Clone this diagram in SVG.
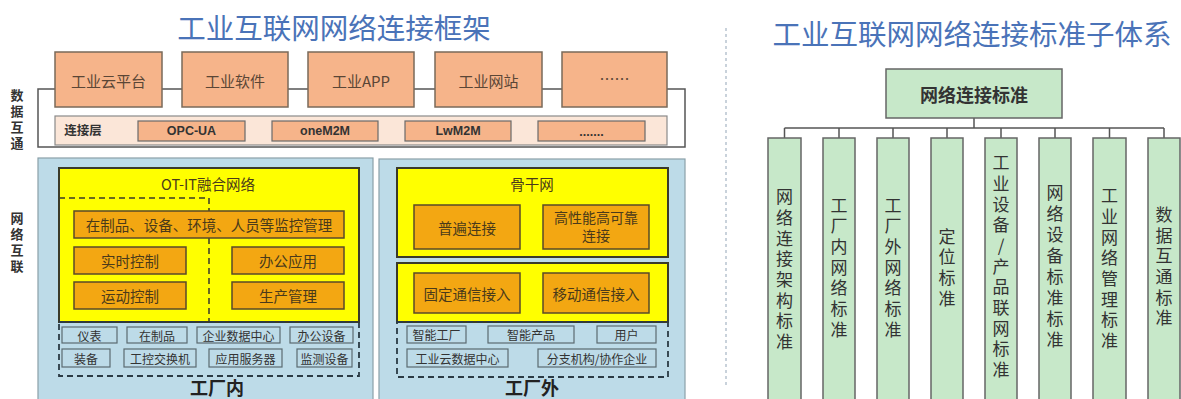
<svg xmlns="http://www.w3.org/2000/svg" width="1181" height="399" viewBox="0 0 1181 399">
<style>
text{font-family:"Noto Sans CJK SC","Liberation Sans",sans-serif;text-anchor:middle;dominant-baseline:central}
.title{font-size:28.5px;fill:#4a73b8}
.side{font-size:13px;font-weight:bold;fill:#333;writing-mode:vertical-rl;text-orientation:upright;letter-spacing:3px}
.app{fill:#f6b48a;stroke:#7a6a5a;stroke-width:1.5}
.appt{font-size:15px;fill:#5a4636}
.proto{fill:#f6b48a;stroke:#6a6a6a;stroke-width:1.2}
.protot{font-size:12.5px;font-weight:bold;fill:#333;font-family:"Liberation Sans","Noto Sans CJK SC",sans-serif}
.panel{fill:#bddbe8;stroke:#8aa0a8;stroke-width:1.2}
.yel{fill:#ffff00;stroke:#3a3a2a;stroke-width:2}
.org{fill:#f3a712;stroke:#5a4a2a;stroke-width:1.5}
.orgt{font-size:14.5px;fill:#4a3a1a}
.two{font-size:14px;fill:#4a3a1a;font-family:"Liberation Sans","Noto Sans CJK SC",sans-serif}
.sm{fill:#bddbe8;stroke:#5a6a70;stroke-width:1.2}
.smt{font-size:12px;fill:#333}
.dash{fill:none;stroke:#2a3a44;stroke-width:1.8;stroke-dasharray:6 4}
.big{font-size:18px;fill:#222;font-weight:bold}
.grn{fill:#c7e8c9;stroke:#666;stroke-width:1.5}
.colt{font-size:17px;fill:#333;writing-mode:vertical-rl;text-orientation:upright;letter-spacing:3.7px}
.tree{fill:none;stroke:#555;stroke-width:1.5}
</style>

<g id="titles">
<text class="title" x="334" y="26">工业互联网网络连接框架</text>
<text class="title" x="972" y="32">工业互联网网络连接标准子体系</text>
</g>

<g id="side-labels">
<text class="side" x="17" y="121">数据互通</text>
<text class="side" x="17" y="244">网络互联</text>
</g>

<g id="separator">
<line x1="726" y1="28" x2="726" y2="386" stroke="#b8c4d0" stroke-width="1.5" stroke-dasharray="3 3"/>
</g>

<g id="connectors">
<rect class="tree" x="38" y="89" width="647" height="58" stroke="#666"/>
<path class="tree" d="M974 118V128M784.5 128H1164M784.5 128V138M839 128V138M893 128V138M947 128V138M1001 128V138M1055 128V138M1109.5 128V138M1164 128V138"/>
</g>

<g id="app-layer">
<g id="n-cloud"><rect class="app" x="55" y="52" width="107" height="55"/><text class="appt" x="108.5" y="80">工业云平台</text></g>
<g id="n-soft"><rect class="app" x="182" y="52" width="106" height="55"/><text class="appt" x="235" y="80">工业软件</text></g>
<g id="n-app"><rect class="app" x="308" y="52" width="106" height="55"/><text class="appt" x="361" y="80">工业APP</text></g>
<g id="n-web"><rect class="app" x="435" y="52" width="107" height="55"/><text class="appt" x="488.5" y="80">工业网站</text></g>
<g id="n-more1"><rect class="app" x="562" y="52" width="105" height="55"/><text class="appt" x="614.5" y="78">……</text></g>
</g>

<g id="conn-layer">
<rect x="55" y="116" width="612" height="29" fill="#fbe6d8" stroke="#8a8a8a" stroke-width="1.2"/>
<text class="protot" x="83" y="131">连接层</text>
<g id="n-opc"><rect class="proto" x="138" y="121" width="107" height="20"/><text class="protot" x="191.5" y="131">OPC-UA</text></g>
<g id="n-onem2m"><rect class="proto" x="272" y="121" width="106" height="20"/><text class="protot" x="325" y="131">oneM2M</text></g>
<g id="n-lwm2m"><rect class="proto" x="405" y="121" width="106" height="20"/><text class="protot" x="458" y="131">LwM2M</text></g>
<g id="n-more2"><rect class="proto" x="538" y="121" width="107" height="20"/><text class="protot" x="591.5" y="132">.......</text></g>
</g>

<g id="factory-in">
<rect class="panel" x="38" y="158" width="335" height="250"/>
<rect class="yel" x="59" y="168" width="300" height="154"/>
<text class="orgt" x="208" y="183" fill="#555">OT-IT融合网络</text>
<path d="M59 198H209V322" fill="none" stroke="#3a3a2a" stroke-width="1.5" stroke-dasharray="6 4"/>
<g id="n-monitor"><rect class="org" x="74" y="211" width="270" height="27"/><text class="orgt" x="209" y="224.5">在制品、设备、环境、人员等监控管理</text></g>
<g id="n-rt"><rect class="org" x="74" y="247" width="112" height="27"/><text class="orgt" x="130" y="260.5">实时控制</text></g>
<g id="n-office"><rect class="org" x="232" y="247" width="112" height="27"/><text class="orgt" x="288" y="260.5">办公应用</text></g>
<g id="n-motion"><rect class="org" x="74" y="282" width="112" height="27"/><text class="orgt" x="130" y="295.5">运动控制</text></g>
<g id="n-prod"><rect class="org" x="232" y="282" width="112" height="27"/><text class="orgt" x="288" y="295.5">生产管理</text></g>
<rect class="dash" x="59" y="322" width="300" height="54"/>
<g id="n-yb"><rect class="sm" x="62" y="327" width="55" height="16"/><text class="smt" x="89.5" y="335">仪表</text></g>
<g id="n-zzp"><rect class="sm" x="127" y="327" width="60" height="16"/><text class="smt" x="157" y="335">在制品</text></g>
<g id="n-qysj"><rect class="sm" x="197" y="327" width="83" height="16"/><text class="smt" x="238.5" y="335">企业数据中心</text></g>
<g id="n-bgsb"><rect class="sm" x="290" y="327" width="63" height="16"/><text class="smt" x="321.5" y="335">办公设备</text></g>
<g id="n-zb"><rect class="sm" x="62" y="349" width="48" height="18"/><text class="smt" x="86" y="358">装备</text></g>
<g id="n-gkjh"><rect class="sm" x="124" y="349" width="72" height="18"/><text class="smt" x="160" y="358">工控交换机</text></g>
<g id="n-yyfw"><rect class="sm" x="209" y="349" width="73" height="18"/><text class="smt" x="245.5" y="358">应用服务器</text></g>
<g id="n-jcsb"><rect class="sm" x="297" y="349" width="55" height="18"/><text class="smt" x="324.5" y="358">监测设备</text></g>
<text class="big" x="217" y="387">工厂内</text>
</g>

<g id="factory-out">
<rect class="panel" x="379" y="159" width="306" height="250"/>
<rect class="yel" x="397" y="168" width="271" height="89"/>
<text class="orgt" x="532" y="183" fill="#555">骨干网</text>
<g id="n-pb"><rect class="org" x="414" y="205" width="106" height="44"/><text class="orgt" x="467" y="227">普遍连接</text></g>
<g id="n-gx"><rect class="org" x="543" y="205" width="106" height="44"/><text class="two" x="596" y="218">高性能高可靠</text><text class="two" x="596" y="236">连接</text></g>
<rect class="yel" x="397" y="263" width="271" height="59"/>
<g id="n-gd"><rect class="org" x="414" y="273" width="106" height="40"/><text class="orgt" x="467" y="293">固定通信接入</text></g>
<g id="n-yd"><rect class="org" x="543" y="273" width="106" height="40"/><text class="orgt" x="596" y="293">移动通信接入</text></g>
<rect class="dash" x="397" y="322" width="271" height="55"/>
<g id="n-zngc"><rect class="sm" x="407" y="326" width="59" height="17"/><text class="smt" x="436.5" y="334.5">智能工厂</text></g>
<g id="n-zncp"><rect class="sm" x="488" y="326" width="86" height="17"/><text class="smt" x="531" y="334.5">智能产品</text></g>
<g id="n-yh"><rect class="sm" x="597" y="326" width="59" height="17"/><text class="smt" x="626.5" y="334.5">用户</text></g>
<g id="n-gyy"><rect class="sm" x="407" y="349" width="101" height="18"/><text class="smt" x="457.5" y="358">工业云数据中心</text></g>
<g id="n-fz"><rect class="sm" x="538" y="349" width="118" height="18"/><text class="smt" x="597" y="358">分支机构/协作企业</text></g>
<text class="big" x="532" y="387">工厂外</text>
</g>

<g id="std-root"><rect class="grn" x="886" y="69" width="176" height="49"/><text x="974" y="93.5" style="font-size:18px;font-weight:bold;fill:#333">网络连接标准</text></g>

<g id="std-1"><rect class="grn" x="768" y="138" width="33" height="262"/><text class="colt" x="784.5" y="271">网络连接架构标准</text></g>
<g id="std-2"><rect class="grn" x="823" y="138" width="32" height="262"/><text class="colt" x="839" y="269">工厂内网络标准</text></g>
<g id="std-3"><rect class="grn" x="877" y="138" width="32" height="262"/><text class="colt" x="893" y="269">工厂外网络标准</text></g>
<g id="std-4"><rect class="grn" x="931" y="138" width="32" height="262"/><text class="colt" x="947" y="269">定位标准</text></g>
<g id="std-5"><rect class="grn" x="985" y="138" width="32" height="262"/><text class="colt" x="1001" y="268">工业设备/产品联网标准</text></g>
<g id="std-6"><rect class="grn" x="1039" y="138" width="32" height="262"/><text class="colt" x="1055" y="268" style="letter-spacing:4px">网络设备标准标准</text></g>
<g id="std-7"><rect class="grn" x="1093" y="138" width="33" height="262"/><text class="colt" x="1109.5" y="270">工业网络管理标准</text></g>
<g id="std-8"><rect class="grn" x="1148" y="138" width="32" height="262"/><text class="colt" x="1164" y="268">数据互通标准</text></g>
</svg>
